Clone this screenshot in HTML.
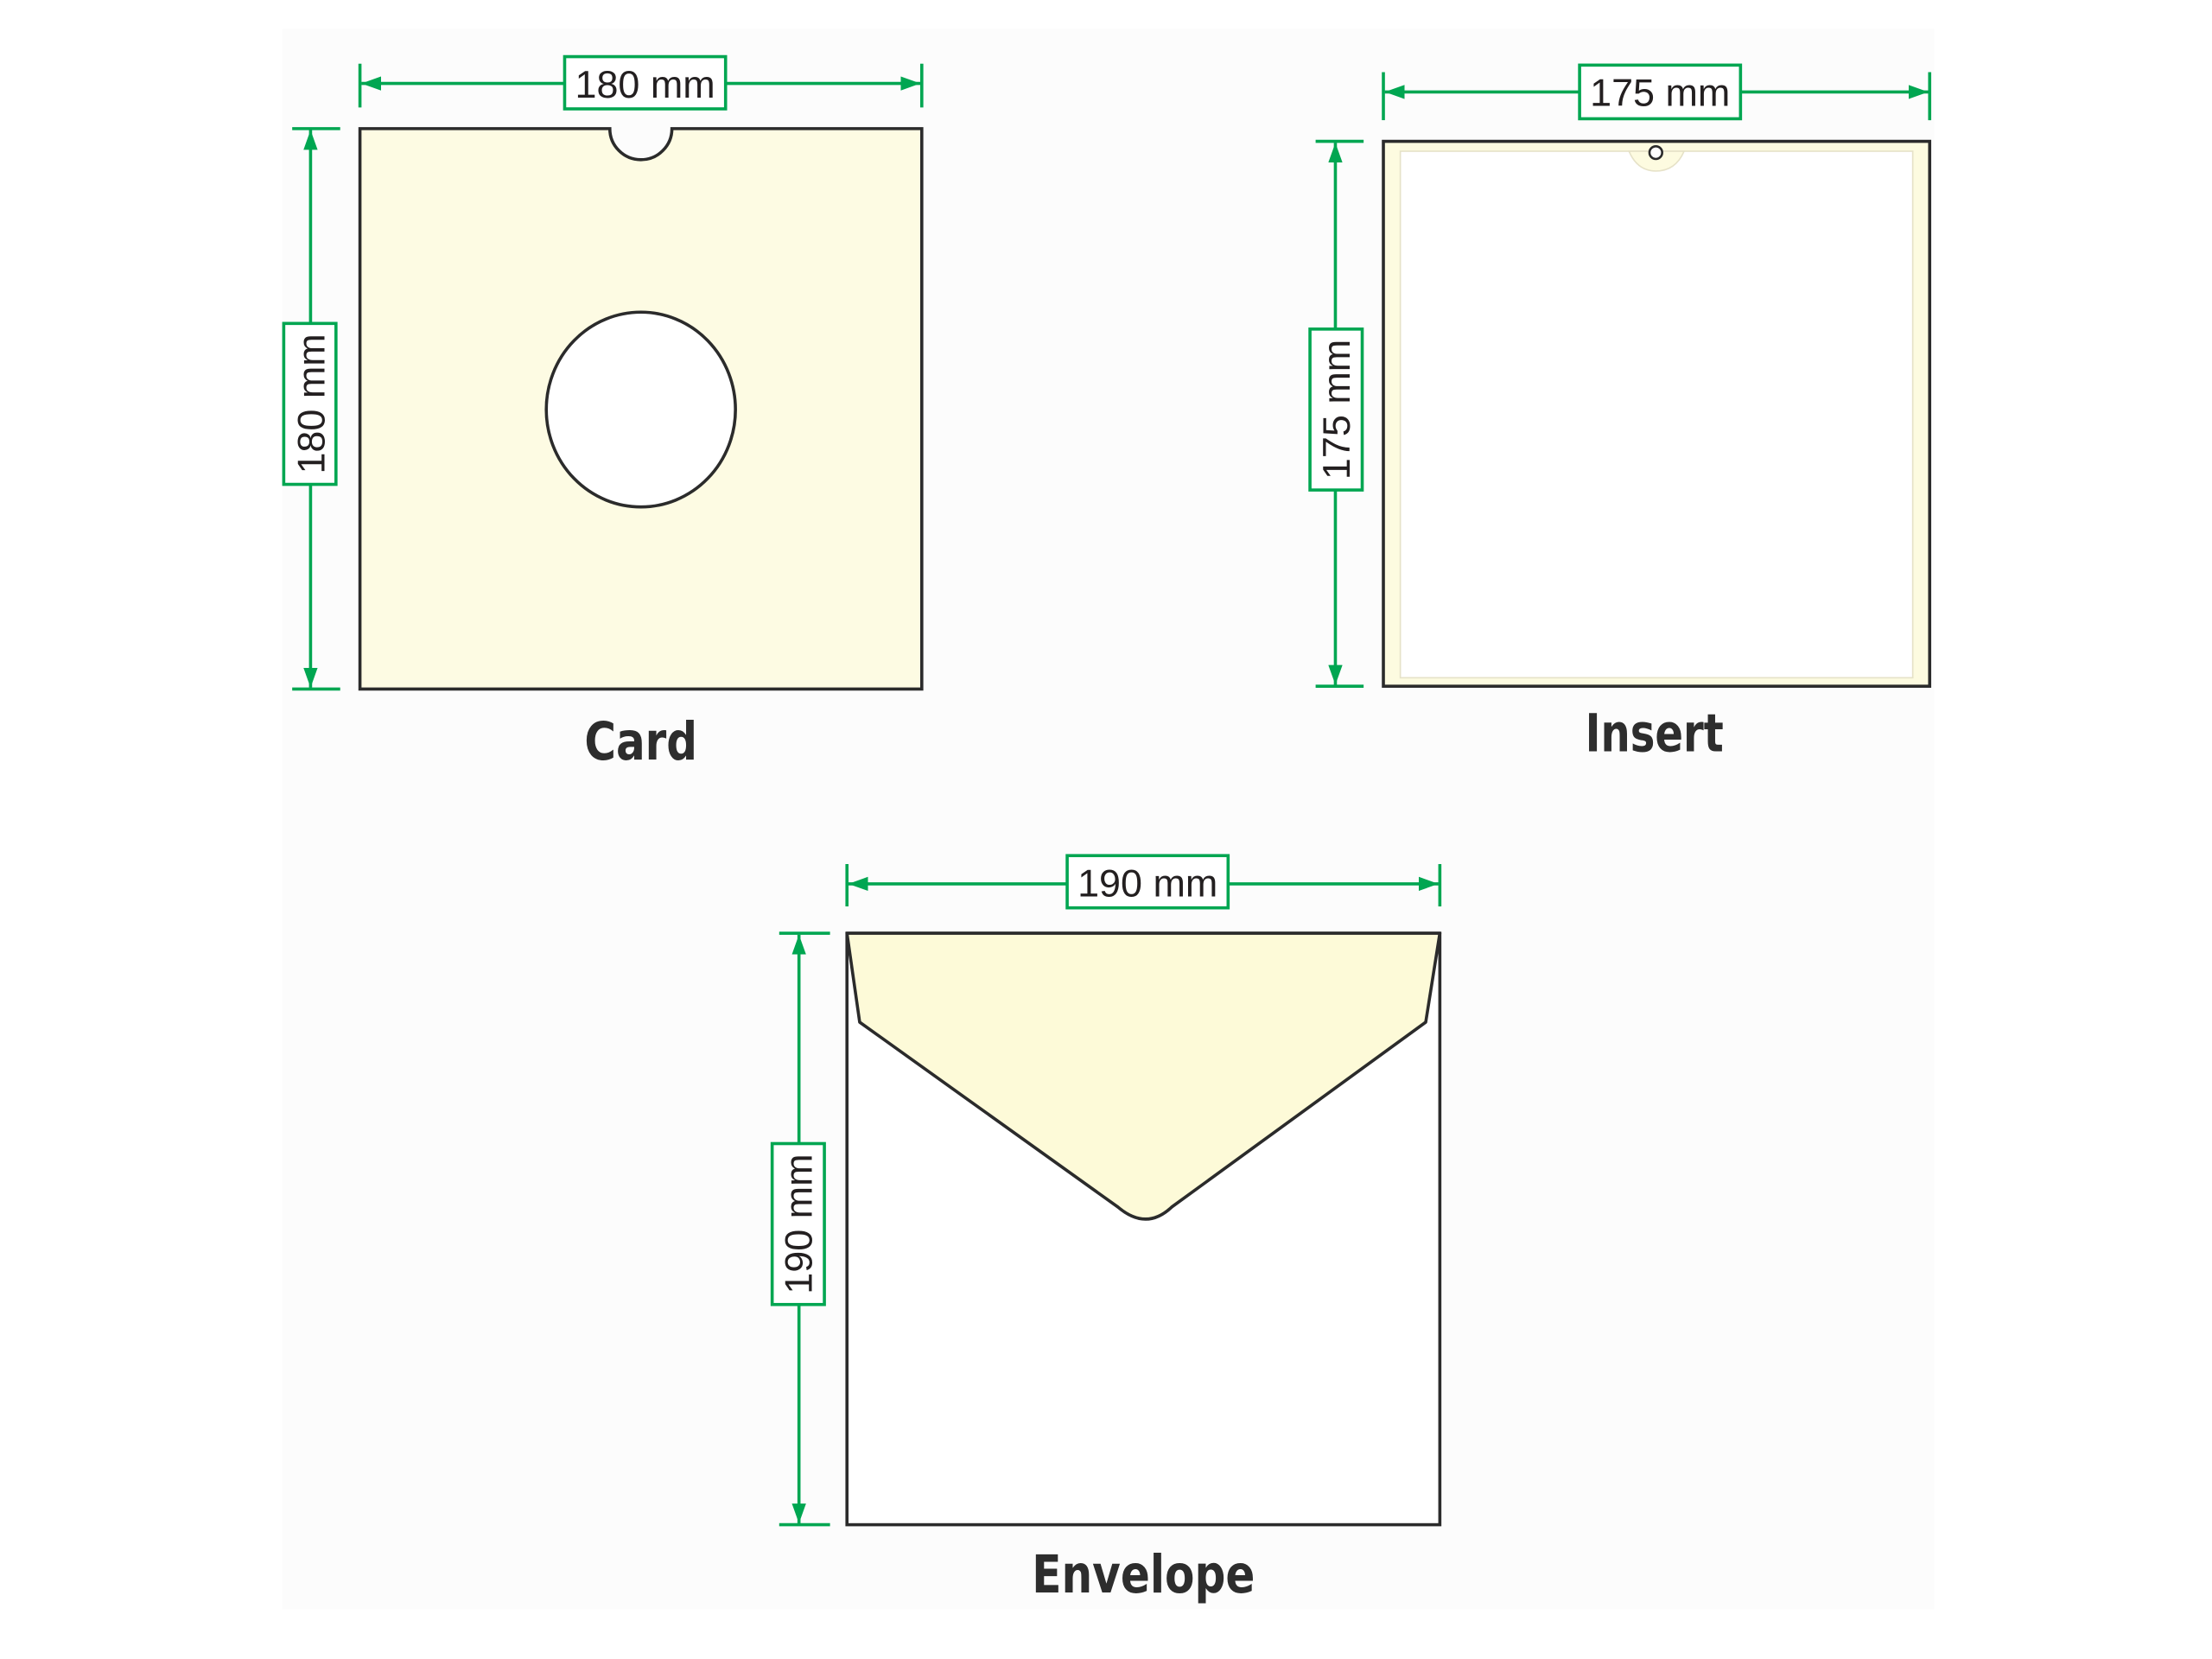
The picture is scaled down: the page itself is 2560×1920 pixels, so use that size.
<!DOCTYPE html>
<html><head><meta charset="utf-8"><style>
html,body{margin:0;padding:0;background:#fff;}
svg{display:block;}
</style></head><body>
<svg width="2560" height="1920" viewBox="0 0 1567 1175" xmlns="http://www.w3.org/2000/svg" font-family="Liberation Sans, sans-serif">
<defs>
<marker id="a" viewBox="0 0 14 10" refX="14" refY="5" markerWidth="14" markerHeight="10" markerUnits="userSpaceOnUse" orient="auto-start-reverse"><path d="M0,0 L14,5 L0,10 z" fill="#00a651"/></marker>
</defs>
<rect x="0" y="0" width="1567" height="1175" fill="#ffffff"/>
<rect x="200" y="20" width="1170" height="1120" fill="#fcfcfc"/>
<g stroke="#00a651" stroke-width="2.2" fill="none">
<line x1="255" y1="45" x2="255" y2="76"/><line x1="653" y1="45" x2="653" y2="76"/>
<line x1="256" y1="59" x2="652" y2="59" marker-start="url(#a)" marker-end="url(#a)"/>
<line x1="207" y1="91" x2="241" y2="91"/><line x1="207" y1="488" x2="241" y2="488"/>
<line x1="220" y1="92" x2="220" y2="487" marker-start="url(#a)" marker-end="url(#a)"/>
<line x1="980" y1="51" x2="980" y2="85"/><line x1="1367" y1="51" x2="1367" y2="85"/>
<line x1="981" y1="65" x2="1366" y2="65" marker-start="url(#a)" marker-end="url(#a)"/>
<line x1="932" y1="100" x2="966" y2="100"/><line x1="932" y1="486" x2="966" y2="486"/>
<line x1="946" y1="101" x2="946" y2="485" marker-start="url(#a)" marker-end="url(#a)"/>
<line x1="600" y1="612" x2="600" y2="642"/><line x1="1020" y1="612" x2="1020" y2="642"/>
<line x1="601" y1="626" x2="1019" y2="626" marker-start="url(#a)" marker-end="url(#a)"/>
<line x1="552" y1="661" x2="588" y2="661"/><line x1="552" y1="1080" x2="588" y2="1080"/>
<line x1="566" y1="662" x2="566" y2="1079" marker-start="url(#a)" marker-end="url(#a)"/>
</g>
<g fill="#fff" stroke="#00a651" stroke-width="2.2">
<rect x="400" y="40" width="114" height="37"/>
<rect x="201" y="229" width="37" height="114"/>
<rect x="1119" y="46" width="114" height="38"/>
<rect x="928" y="233" width="37" height="114"/>
<rect x="756" y="606" width="114" height="37"/>
<rect x="547" y="810" width="37" height="114"/>
</g>
<g fill="#231f20" font-size="27.5" text-anchor="middle">
<text x="457" y="69">180 mm</text>
<text x="1176" y="75">175 mm</text>
<text x="813" y="635">190 mm</text>
<text transform="translate(230,286) rotate(-90)">180 mm</text>
<text transform="translate(956,290) rotate(-90)">175 mm</text>
<text transform="translate(575,867) rotate(-90)">190 mm</text>
</g>
<path d="M255,91 L432,91 A22,22 0 0 0 476,91 L653,91 L653,488 L255,488 Z" fill="#fdfbe3" stroke="#2b2b2b" stroke-width="2.2"/>
<ellipse cx="454" cy="290" rx="67" ry="69" fill="#fff" stroke="#2b2b2b" stroke-width="2.2"/>
<rect x="980" y="100" width="387" height="386" fill="#fdfbe0" stroke="#2b2b2b" stroke-width="2.2"/>
<rect x="992" y="107" width="363" height="373" fill="#fff" stroke="#e6e2c8" stroke-width="1"/>
<path d="M1154,107 Q1160,121 1173,121 Q1187,121 1193,107 Z" fill="#fdfbe0" stroke="#e6e2c8" stroke-width="1"/>
<circle cx="1173" cy="108" r="4.5" fill="#fff" stroke="#2b2b2b" stroke-width="1.6"/>
<rect x="600" y="661" width="420" height="419" fill="#fff" stroke="#2b2b2b" stroke-width="2.2"/>
<path d="M600,661 L1020,661 L1010,724 L830,855 Q812,872 792,855 L609,724 Z" fill="#fdfad8" stroke="#2b2b2b" stroke-width="2.2" stroke-linejoin="round"/>
<g fill="#2d2d2d" font-size="37" font-weight="bold" text-anchor="middle" font-family="DejaVu Sans Condensed, DejaVu Sans, Liberation Sans, sans-serif">
<text x="454" y="538" textLength="80" lengthAdjust="spacingAndGlyphs">Card</text>
<text x="1172" y="532" textLength="98" lengthAdjust="spacingAndGlyphs">Insert</text>
<text x="810" y="1128" textLength="158" lengthAdjust="spacingAndGlyphs">Envelope</text>
</g>
</svg>
</body></html>
